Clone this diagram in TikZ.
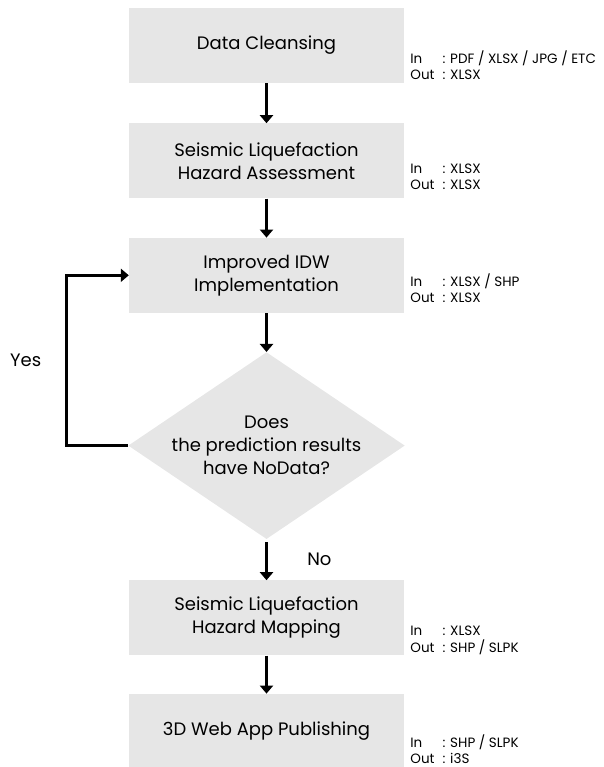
\documentclass[tikz,border=0pt]{standalone}
\usepackage{fontspec}
\setmainfont{Poppins}
\usetikzlibrary{arrows.meta,positioning,shapes.geometric}
\definecolor{flowGray}{RGB}{230,230,230}
\newcommand{\iotext}[2]{\begin{tabular}{@{}l@{\hspace{8pt}}l@{}}In & : #1\\ Out & : #2\end{tabular}}

\begin{document}
\begin{tikzpicture}[x=1pt, y=-1pt,
    stepbox/.style={rectangle, fill=flowGray, inner sep=0pt,
      minimum width=275pt, minimum height=75pt, align=center,
      font=\fontsize{18}{23}\selectfont},
    decision/.style={diamond, fill=flowGray, inner sep=0pt, aspect=1.48,
      minimum width=275pt, minimum height=186pt, align=center,
      font=\fontsize{18}{23}\selectfont},
    iolabel/.style={anchor=west, inner sep=0pt, font=\fontsize{13.5}{16}\selectfont},
    flowlabel/.style={font=\fontsize{18}{20}\selectfont},
    flow/.style={line width=3pt, -{Triangle[width=13pt,length=8pt]}}]
  \useasboundingbox (0,0) rectangle (603,767);

  % process steps
  \node[stepbox] (clean) at (266.5,45.5) {Data Cleansing};
  \node[stepbox, below=40pt of clean] (assess) {Seismic Liquefaction\\Hazard Assessment};
  \node[stepbox, below=39pt of assess] (idw) {Improved IDW\\Implementation};
  \node[decision, below=39pt of idw] (check) {Does\\the prediction results\\have NoData?};
  \node[stepbox, below=41pt of check] (mapping) {Seismic Liquefaction\\Hazard Mapping};
  \node[stepbox, below=38pt of mapping] (publish) {3D Web App Publishing};

  % input / output formats
  \node[iolabel] (cleanio) at ([xshift=6pt,yshift=-22pt]clean.east) {\iotext{PDF / XLSX / JPG / ETC}{XLSX}};
  \node[iolabel] (assessio) at ([xshift=6pt,yshift=-17pt]assess.east) {\iotext{XLSX}{XLSX}};
  \node[iolabel] (idwio) at ([xshift=6pt,yshift=-15pt]idw.east) {\iotext{XLSX / SHP}{XLSX}};
  \node[iolabel] (mappingio) at ([xshift=6pt,yshift=-23pt]mapping.east) {\iotext{XLSX}{SHP / SLPK}};
  \node[iolabel] (publishio) at ([xshift=6pt,yshift=-20pt]publish.east) {\iotext{SHP / SLPK}{i3S}};

  % connectors
  \draw[flow] (clean) -- (assess);
  \draw[flow] (assess) -- (idw);
  \draw[flow] (idw) -- (check);
  \draw[flow, shorten <=3pt] (check) -- (mapping)
    node[flowlabel, midway, right=36pt] {No};
  \draw[flow] (check.west) -- ++(-62pt,0pt) |- (idw.west)
    node[flowlabel, pos=0.25, left=20pt] {Yes};
  \draw[flow] (mapping) -- (publish);
\end{tikzpicture}
\end{document}
